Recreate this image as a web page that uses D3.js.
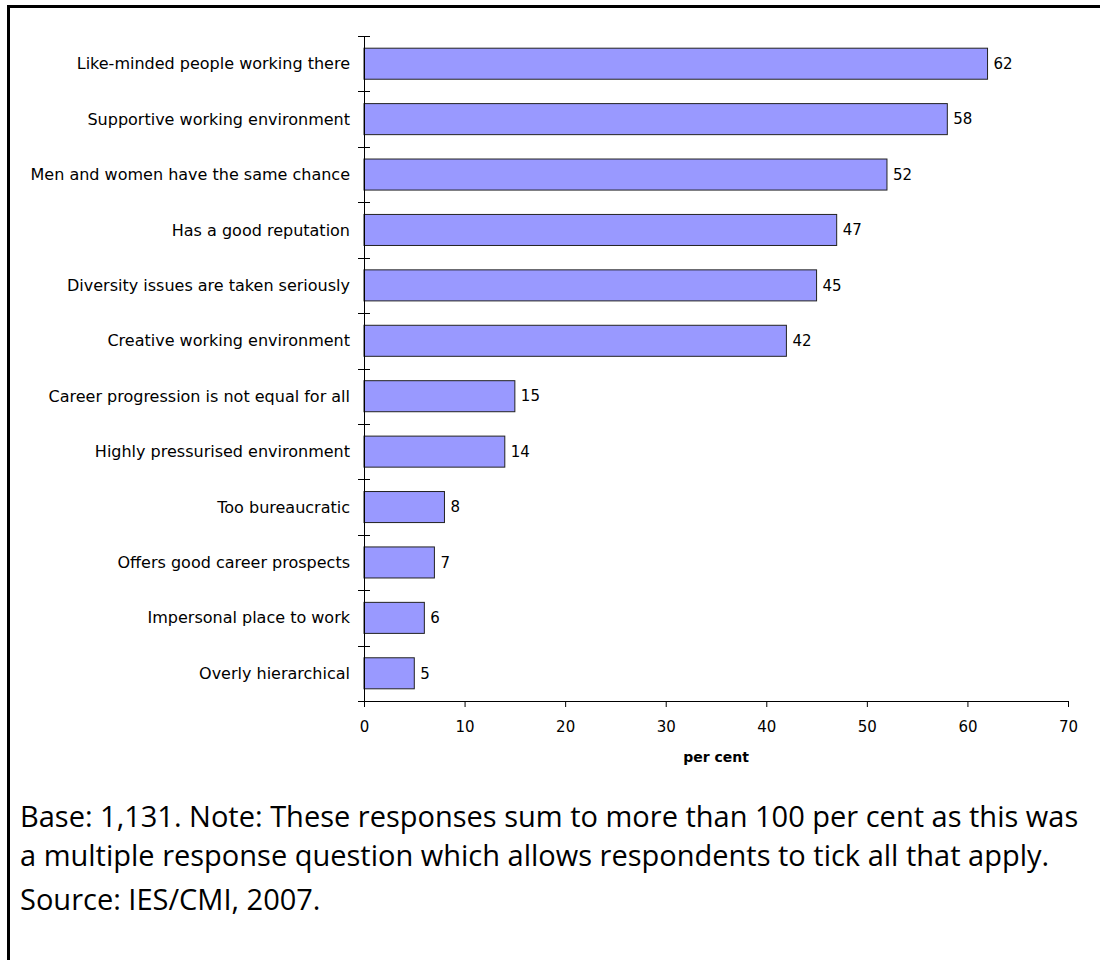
<!DOCTYPE html>
<html>
<head>
<meta charset="utf-8">
<script src="https://cdn.jsdelivr.net/npm/d3@7"></script>
<style>
body { margin: 0; background: #fff; }
svg text { fill: #000; }
</style>
</head>
<body>
<svg id="chart"></svg>
<script>
// reasons given, in chart order (top to bottom)
const categories = [
  "Like-minded people working there",
  "Supportive working environment",
  "Men and women have the same chance",
  "Has a good reputation",
  "Diversity issues are taken seriously",
  "Creative working environment",
  "Career progression is not equal for all",
  "Highly pressurised environment",
  "Too bureaucratic",
  "Offers good career prospects",
  "Impersonal place to work",
  "Overly hierarchical"
];
const values = [62, 58, 52, 47, 45, 42, 15, 14, 8, 7, 6, 5];
const xTicks = [0, 10, 20, 30, 40, 50, 60, 70];
const notes = [
  "Base: 1,131. Note: These responses sum to more than 100 per cent as this was",
  "a multiple response question which allows respondents to tick all that apply.",
  "Source: IES/CMI, 2007."
];

const W = 1100, H = 960;
const margin = {top: 36, left: 364, right: 32, bottom: 259};
const innerW = W - margin.left - margin.right,
      innerH = H - margin.top - margin.bottom;

const svg = d3.select("#chart").attr("width", W).attr("height", H);

// cadre
svg.append("path")
  .attr("d", `M8.5,${H + 5} V6.5 H${W + 5}`)
  .attr("fill", "none")
  .attr("stroke", "#000")
  .attr("stroke-width", 3);

const g = svg.append("g").attr("transform", `translate(${margin.left},${margin.top})`);

const x = d3.scaleLinear().domain([0, 70]).range([0, innerW]);
const y = d3.scaleBand().domain(categories).range([0, innerH]).paddingInner(0.44).paddingOuter(0.22);

// barres
g.selectAll("rect.bar")
  .data(values)
  .enter().append("rect")
  .attr("class", "bar")
  .attr("x", 0)
  .attr("y", (d, i) => y(categories[i]))
  .attr("width", d => x(d))
  .attr("height", y.bandwidth())
  .attr("fill", "#9999ff")
  .attr("stroke", "#222")
  .attr("stroke-width", 1);

// valeurs
g.selectAll("text.val")
  .data(values)
  .enter().append("text")
  .attr("class", "val")
  .attr("x", d => x(d) + 6)
  .attr("y", (d, i) => y(categories[i]) + y.bandwidth() / 2)
  .attr("dy", "0.35em")
  .style("font-family", "DejaVu Sans, sans-serif")
  .style("font-size", "15px")
  .text(d => d);

// axe y : ticks entre les catégories
const yTickPos = d3.range(categories.length + 1).map(i => i * innerH / categories.length);
g.append("line")
  .attr("x1", 0.5).attr("x2", 0.5)
  .attr("y1", 0).attr("y2", innerH + 6)
  .attr("stroke", "#000");
g.selectAll("line.ytick")
  .data(yTickPos)
  .enter().append("line")
  .attr("class", "ytick")
  .attr("x1", -6).attr("x2", 6)
  .attr("y1", d => Math.round(d) + 0.5).attr("y2", d => Math.round(d) + 0.5)
  .attr("stroke", "#000");

g.selectAll("text.cat")
  .data(categories)
  .enter().append("text")
  .attr("class", "cat")
  .attr("x", -14)
  .attr("y", d => y(d) + y.bandwidth() / 2)
  .attr("dy", "0.35em")
  .attr("text-anchor", "end")
  .style("font-family", "DejaVu Sans, sans-serif")
  .style("font-size", "16px")
  .text(d => d);

// axe x
const xAxis = g.append("g")
  .attr("transform", `translate(0,${innerH})`)
  .call(d3.axisBottom(x).tickValues(xTicks).tickSize(6).tickPadding(14));
xAxis.select(".domain").attr("d", `M-6,0.5H${innerW}`).attr("stroke", "#000");
xAxis.selectAll(".tick line").attr("stroke", "#000");
xAxis.selectAll("text")
  .style("font-family", "DejaVu Sans, sans-serif")
  .style("font-size", "15px");

g.append("text")
  .attr("x", innerW / 2)
  .attr("y", innerH + 61)
  .attr("text-anchor", "middle")
  .style("font-family", "DejaVu Sans, sans-serif")
  .style("font-size", "14px")
  .style("font-weight", "bold")
  .text("per cent");

// notes
svg.selectAll("text.note")
  .data(notes)
  .enter().append("text")
  .attr("class", "note")
  .attr("x", 20)
  .attr("y", (d, i) => [827, 866, 910][i])
  .style("font-family", "Open Sans, sans-serif")
  .style("font-size", "29px")
  .text(d => d);
</script>
</body>
</html>
